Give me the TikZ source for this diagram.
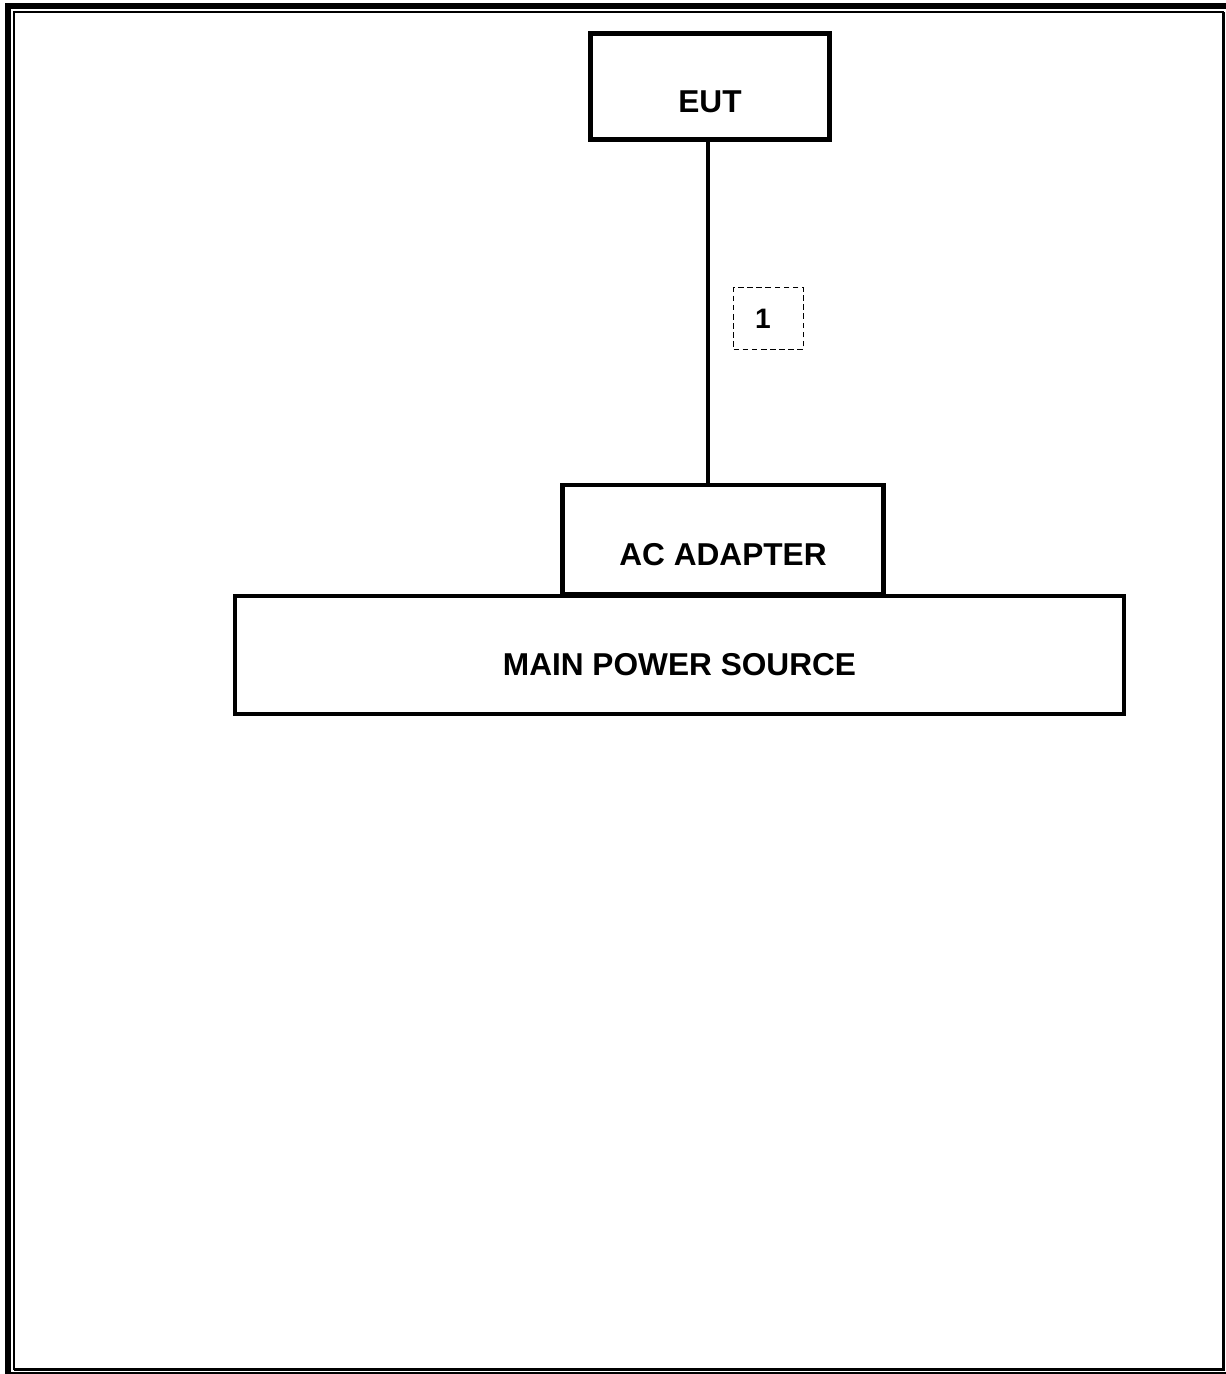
\documentclass[tikz,border=0pt]{standalone}
\usepackage{fontspec}
\setmainfont{Liberation Sans}
\usepackage{tikz}
\usetikzlibrary{positioning}

\begin{document}
\begin{tikzpicture}[x=0.02cm,y=-0.02cm,
  unit/.style={draw,line width=2.5pt,minimum width=#1,text height=1.05cm,text depth=0pt,
    inner sep=0pt,font=\fontsize{18}{20}\selectfont\bfseries},
  cable/.style={line width=2.5pt},
  tag/.style={draw,line width=0.75pt,dash pattern=on 3.2pt off 2pt,minimum width=1.4cm,
    minimum height=1.24cm,inner sep=0pt,font=\fontsize{16}{18}\selectfont\bfseries}]
  \useasboundingbox (0,0) rectangle (1226,1374);
  % page frame
  \draw[line width=1.2pt] (1223.5,12) -- (14,12) -- (14,1369.5);
  \draw[line width=2pt] (14,1369.5) -- (1223.5,1369.5) -- (1223.5,12);
  \draw[line width=3.4pt] (8,1374) -- (8,6) -- (1226,6);
  \draw[line width=0.85pt] (8,1372.8) -- (1226,1372.8);
  % units
  \node[unit=4.78cm,minimum height=2.12cm] (eut) at (710,86.5) {EUT};
  \node[unit=6.42cm,minimum height=2.18cm] (adapter) at (723,539.5) {AC ADAPTER};
  \node[unit=17.78cm,minimum height=2.36cm,text height=0.82cm] (mains) at (679.5,655) {MAIN POWER SOURCE};
  % cable
  \draw[cable] (eut.south -| 708,0) -- (adapter.north -| 708,0);
  \node[tag] (c1) at (768.5,318.5) {1\kern0.22cm};
\end{tikzpicture}
\end{document}
